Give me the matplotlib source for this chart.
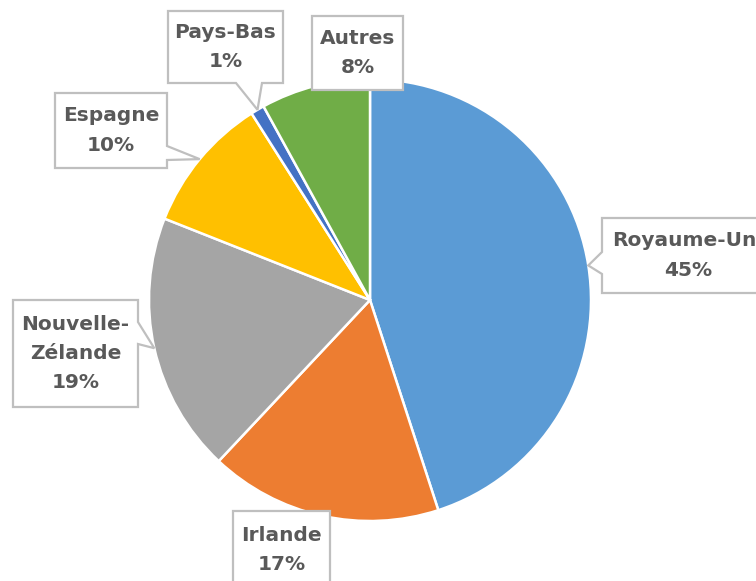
import matplotlib
matplotlib.use("Agg")
import matplotlib.pyplot as plt
import numpy as np
from matplotlib.patches import Polygon

labels = ["Royaume-Uni", "Irlande", "Nouvelle-\nZélande", "Espagne", "Pays-Bas", "Autres"]
values = [45, 17, 19, 10, 1, 8]
colors = ["#5B9BD5", "#ED7D31", "#A5A5A5", "#FFC000", "#4472C4", "#70AD47"]

W, H = 756, 581
fig = plt.figure(figsize=(W / 100, H / 100), dpi=100)
ax = fig.add_axes([0, 0, 1, 1])

cx, cy, R = 370, H - 300, 221
wedges, _ = ax.pie(values, colors=colors, startangle=90, counterclock=False,
                   center=(cx, cy), radius=R, frame=True,
                   wedgeprops=dict(edgecolor="white", linewidth=1.8))
ax.set_xlim(0, W)
ax.set_ylim(0, H)
ax.set_aspect("equal")
ax.axis("off")

# callout boxes: (left, top, right, bottom) in pixel coords (top-origin), pointer side
boxes = [
    (602, 218, 775, 293, "left", 252, 274),
    (233, 511, 330, 600, None, 0, 0),
    (13, 300, 138, 407, "right", 322, 344),
    (55, 93, 167, 168, "right", 146, 160),
    (168, 11, 283, 83, "bottom", 236, 262),
    (312, 16, 403, 90, None, 0, 0),
]

def fy(py):
    return H - py

for w, lab, v, (x0, y0, x1, y1, side, a, b) in zip(wedges, labels, values, boxes):
    mid = np.deg2rad((w.theta1 + w.theta2) / 2)
    tx = cx + R * np.cos(mid)
    ty = cy + R * np.sin(mid)
    Y0, Y1 = fy(y0), fy(y1)
    if side == "left":
        pts = [(x0, Y0), (x1, Y0), (x1, Y1), (x0, Y1), (x0, fy(b)), (tx, ty), (x0, fy(a))]
    elif side == "right":
        pts = [(x0, Y0), (x1, Y0), (x1, fy(a)), (tx, ty), (x1, fy(b)), (x1, Y1), (x0, Y1)]
    elif side == "bottom":
        pts = [(x0, Y0), (x1, Y0), (x1, Y1), (b, Y1), (tx, ty), (a, Y1), (x0, Y1)]
    else:
        pts = [(x0, Y0), (x1, Y0), (x1, Y1), (x0, Y1)]
    ax.add_patch(Polygon(pts, closed=True, facecolor="white", edgecolor="#BFBFBF",
                         linewidth=1.6, zorder=5, clip_on=False))
    ax.text((x0 + x1) / 2 if x1 < W else 688, (Y0 + Y1) / 2 if y1 < H else fy(550),
            f"{lab}\n{v}%", ha="center", va="center", fontsize=14.5,
            fontweight="bold", color="#595959", linespacing=1.7, zorder=6,
            family="DejaVu Sans")

fig.savefig("out.png", dpi=100)
